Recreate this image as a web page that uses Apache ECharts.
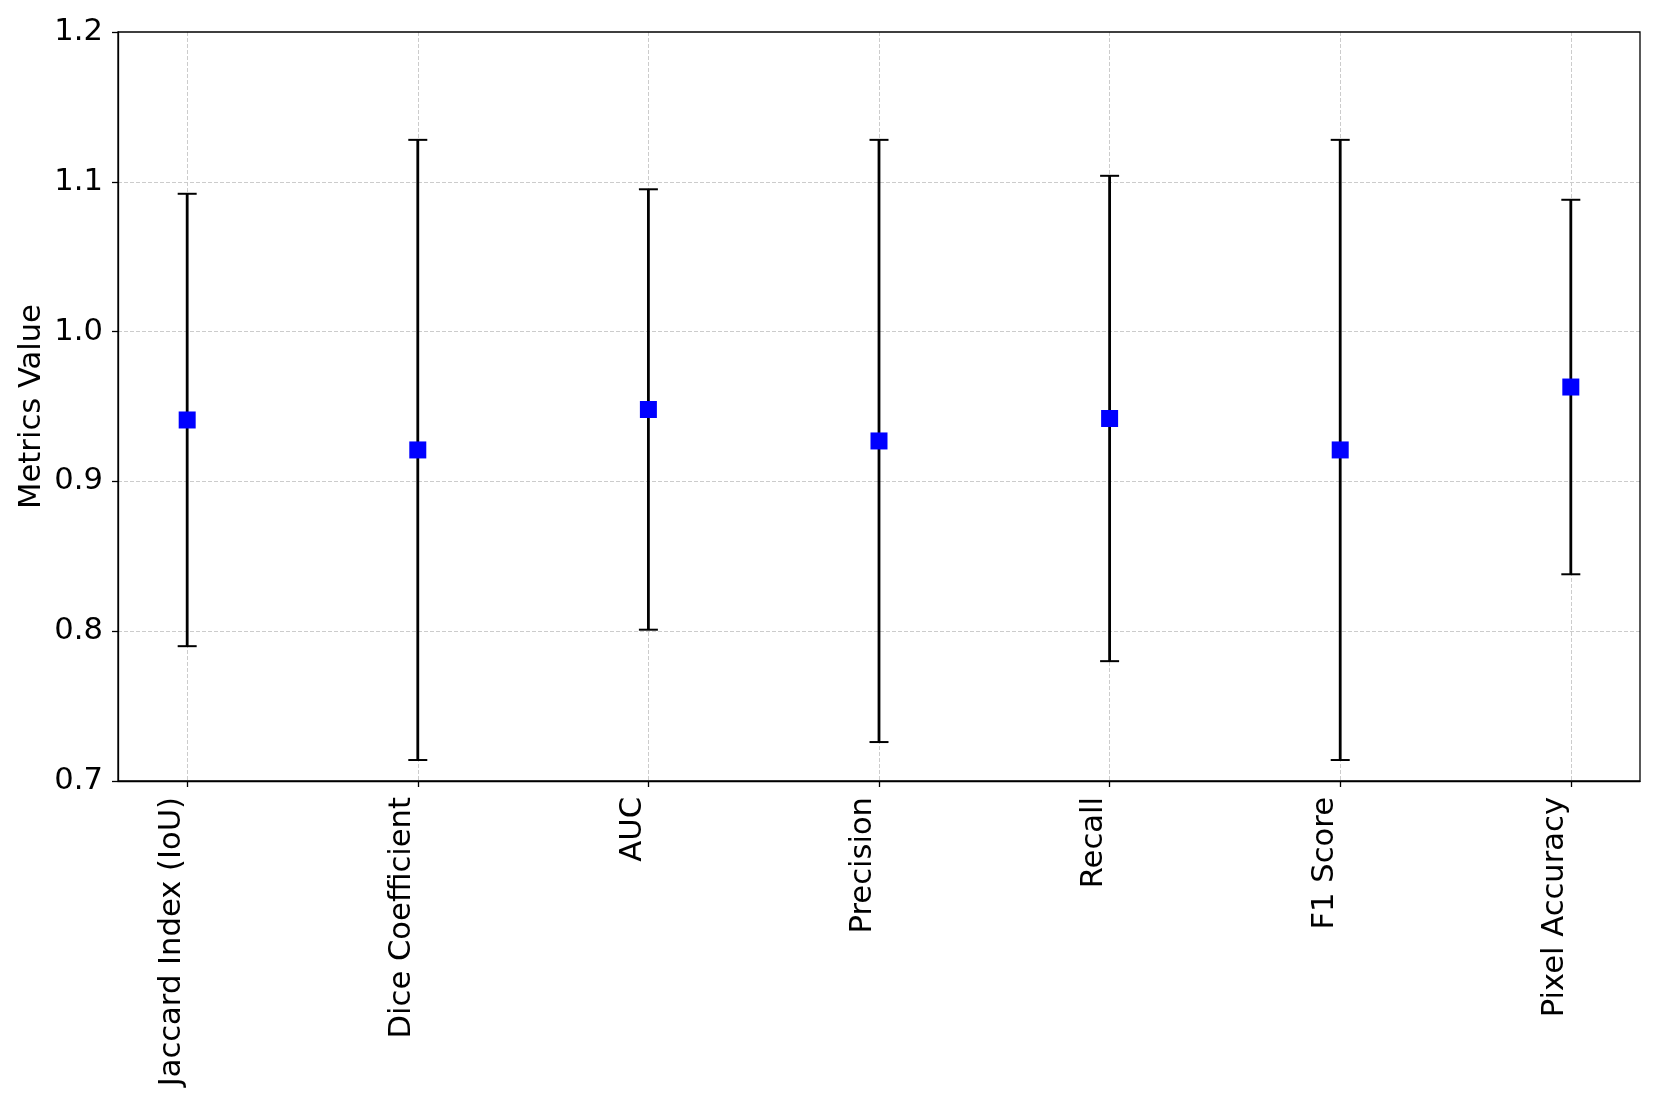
<!DOCTYPE html>
<html>
<head>
<meta charset="utf-8">
<title>Metrics</title>
<script src="https://cdn.jsdelivr.net/npm/echarts@6/dist/echarts.min.js"></script>
<style>
  html, body { margin: 0; padding: 0; background: #fff; }
  #main { width: 1661px; height: 1107px; }
</style>
</head>
<body>
<div id="main"></div>
<script>
// metric names along the x axis
var categories = ['Jaccard Index (IoU)', 'Dice Coefficient', 'AUC', 'Precision', 'Recall', 'F1 Score', 'Pixel Accuracy'];
// mean value of each metric
var means = [0.941, 0.921, 0.948, 0.927, 0.942, 0.921, 0.963];
// error (std) of each metric, bars go mean - err .. mean + err
var errors = [0.151, 0.207, 0.147, 0.201, 0.162, 0.207, 0.125];
// y ticks
var yTicks = [0.7, 0.8, 0.9, 1.0, 1.1, 1.2];

var positions = categories.map(function (c, i) { return i; });

var chartDom = document.getElementById('main');
var myChart = echarts.init(chartDom);
var option;

var font = 'DejaVu Sans';
var fontSize = 30.6;

option = {
  animation: false,
  grid: {
    left: 118,
    right: 21,
    top: 32,
    bottom: 326,
    show: true,
    borderColor: '#000',
    borderWidth: 1.3,
    z: 5
  },
  xAxis: {
    type: 'value',
    min: -0.3,
    max: 6.3,
    axisLine: { show: true, onZero: false, lineStyle: { color: '#000', width: 1.3 } },
    axisTick: { show: true, length: 6, lineStyle: { color: '#000', width: 1.3 }, customValues: positions },
    axisLabel: {
      customValues: positions,
      rotate: 90,
      verticalAlign: 'bottom',
      margin: 16,
      fontFamily: font,
      fontSize: fontSize,
      color: '#000',
      formatter: function (v) { return categories[Math.round(v)]; }
    },
    splitLine: { show: true, lineStyle: { color: '#cccccc', width: 1, type: [4, 2] } }
  },
  yAxis: {
    type: 'value',
    min: yTicks[0],
    max: yTicks[yTicks.length - 1],
    interval: 0.1,
    name: 'Metrics Value',
    nameLocation: 'middle',
    nameGap: 70,
    nameMoveOverlap: false,
    nameTextStyle: { fontFamily: font, fontSize: fontSize, color: '#000' },
    axisLine: { show: true, onZero: false, lineStyle: { color: '#000', width: 1.3 } },
    axisTick: { show: true, length: 6, lineStyle: { color: '#000', width: 1.3 } },
    axisLabel: {
      margin: 15,
      fontFamily: font,
      fontSize: fontSize,
      color: '#000',
      formatter: function (v) { return v.toFixed(1); }
    },
    splitLine: { show: true, showMinLine: false, showMaxLine: false, lineStyle: { color: '#cccccc', width: 1, type: [4, 2] } }
  },
  series: [
    {
      // error bars
      type: 'custom',
      z: 2,
      data: positions.map(function (p, i) { return [p, means[i] - errors[i], means[i] + errors[i]]; }),
      renderItem: function (params, api) {
        var lo = api.coord([api.value(0), api.value(1)]);
        var hi = api.coord([api.value(0), api.value(2)]);
        var cap = 9.5;
        var style = { stroke: '#000', lineWidth: 2.8 };
        var capStyle = { stroke: '#000', lineWidth: 2 };
        return {
          type: 'group',
          children: [
            { type: 'line', shape: { x1: lo[0], y1: lo[1], x2: hi[0], y2: hi[1] }, style: style },
            { type: 'line', shape: { x1: lo[0] - cap, y1: lo[1], x2: lo[0] + cap, y2: lo[1] }, style: capStyle },
            { type: 'line', shape: { x1: hi[0] - cap, y1: hi[1], x2: hi[0] + cap, y2: hi[1] }, style: capStyle }
          ]
        };
      }
    },
    {
      // mean markers
      type: 'scatter',
      z: 3,
      symbol: 'rect',
      symbolSize: 17,
      itemStyle: { color: '#0000ff', opacity: 1 },
      data: positions.map(function (p, i) { return [p, means[i]]; })
    }
  ]
};

myChart.setOption(option);
</script>
</body>
</html>
